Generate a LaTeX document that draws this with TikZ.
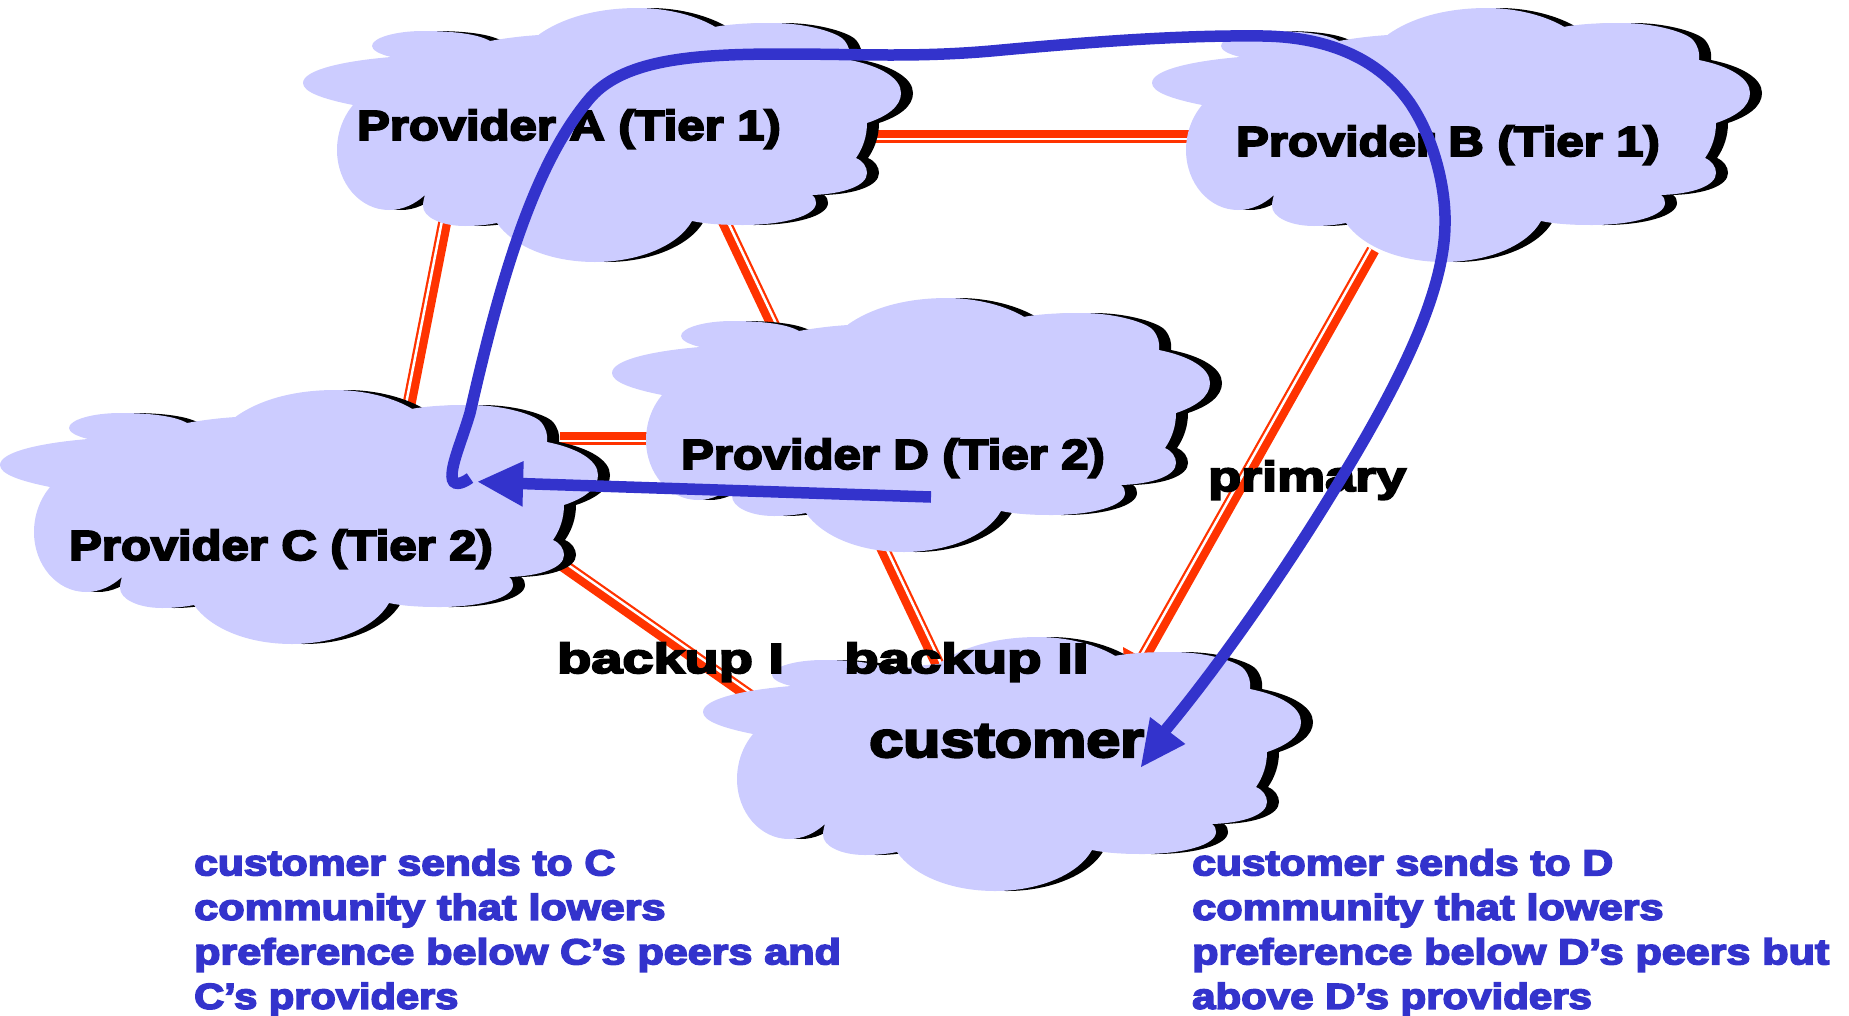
\documentclass[tikz,border=0pt]{standalone}
\usepackage{fontspec}
\usetikzlibrary{calc}
\newfontfamily\blk{Liberation Sans}[BoldFeatures={FakeBold=4.5,FakeStretch=1.1}]
\definecolor{cloudfill}{HTML}{CCCCFF}
\definecolor{linkred}{HTML}{FF3300}
\definecolor{flowblue}{HTML}{3333CC}
\tikzset{
  linkbase/.style={draw=linkred,line width=13pt},
  linkgap/.style={draw=white,line width=2.5pt},
  flow/.style={draw=flowblue,line width=11.5pt},
  flowhead/.style={fill=flowblue},
  label/.style={inner sep=0pt,anchor=base west,text=black,font=\blk\bfseries\fontsize{42}{42}\selectfont},
  biglabel/.style={label,font=\blk\bfseries\fontsize{50}{50}\selectfont},
  note/.style={inner sep=0pt,anchor=north west,align=left,text=flowblue,font=\blk\bfseries\fontsize{36}{44.5}\selectfont},
}
\newcommand\cloudoutline{(235.7,26.7) .. controls (262,8) and (298,0) .. (335,0) .. controls (365,0) and (395,8) .. (414,20) -- (406,20)
 .. controls (425,16) and (445,15) .. (469,15) .. controls (505,15) and (535,25) .. (541,32) .. controls (546,38) and (548,45) .. (547,52)
 .. controls (577,58) and (598,70) .. (598,85) .. controls (598,98) and (585,108) .. (564,115)
 .. controls (564,128) and (560,140) .. (553,150)
 .. controls (560,153) and (564,159) .. (564,165) .. controls (564,178) and (540,186) .. (509,187)
 .. controls (512,189) and (513,192) .. (513,195) .. controls (513,208) and (480,217) .. (440,217) .. controls (420,217) and (403,216) .. (389,213)
 .. controls (375,238) and (335,254) .. (292,254) .. controls (247,254) and (210,238) .. (194,215)
 .. controls (184,217) and (173,218) .. (162,218) .. controls (138,218) and (120,209) .. (120,198) .. controls (120,194) and (121,190) .. (122,187)
 .. controls (112,196) and (100,202) .. (86,202) .. controls (57,202) and (34,175) .. (34,142) .. controls (34,125) and (40,109) .. (50,97)
 .. controls (20,91) and (0,84) .. (0,75) .. controls (0,62) and (40,53) .. (88,49)
 .. controls (76,46) and (69,42) .. (69,38) .. controls (69,30) and (92,23) .. (120,23) .. controls (150,23) and (175,26) .. (187,33)
 .. controls (203,30) and (220,28) .. (236,27) -- cycle}
\newcommand\cloudat[2]{%
  \fill[black,shift={(#1+12,#2)}] \cloudoutline;
  \fill[cloudfill,shift={(#1,#2)}] \cloudoutline;}
\newcommand\linkline[3]{%
  \draw[linkbase] (#1) -- (#2);
  \draw[linkgap] ($(#1)!3pt!#3:(#2)$) -- ($(#2)!3pt!-#3:(#1)$);}
\begin{document}
\begin{tikzpicture}[x=1pt,y=-1pt]
\useasboundingbox (0,0) rectangle (1849,1015);
% link ends, inside the clouds
\coordinate (abA) at (860,136);   \coordinate (abB) at (1195,136);
\coordinate (acA) at (455,170);   \coordinate (acC) at (400,450);
\coordinate (adA) at (700,170);   \coordinate (adD) at (790,360);
\coordinate (cdC) at (560,438);   \coordinate (cdD) at (660,438);
\coordinate (ceC) at (540,549);   \coordinate (ceE) at (790,724);
\coordinate (deD) at (860,500);   \coordinate (deE) at (955,700);
\coordinate (beB) at (1373,250);  \coordinate (beE) at (1143,658);
\linkline{abA}{abB}{-90}
\linkline{acA}{acC}{-90}
\linkline{adA}{adD}{90}
\linkline{cdC}{cdD}{-90}
\linkline{ceC}{ceE}{90}
\linkline{deD}{deE}{90}
\linkline{beB}{beE}{-90}
\fill[linkred] (1123,647) -- (1163,669) -- (1126,688) -- cycle;
% clouds
\cloudat{303}{8}
\cloudat{1152}{8}
\cloudat{612}{298}
\cloudat{0}{390}
\cloudat{703}{637}
% labels
\node[label] (pa) at (357,140) {\scalebox{1.06}[1]{Provider A (Tier 1)}};
\node[label] (pb) at (1236,156) {\scalebox{1.06}[1]{Provider B (Tier 1)}};
\node[label] (pd) at (681,469) {\scalebox{1.06}[1]{Provider D (Tier 2)}};
\node[label] (pc) at (69,560) {\scalebox{1.06}[1]{Provider C (Tier 2)}};
\node[label] (prim) at (1208,491) {\scalebox{1.168}[1]{primary}};
\node[label] (bk1) at (557,673) {\scalebox{1.21}[1]{backup I}};
\node[label] (bk2) at (844,673) {\scalebox{1.22}[1]{backup II}};
\node[biglabel] (cust) at (869,757) {\scalebox{1.11}[1]{customer}};
\node[note] (n1) at (194,849) {\scalebox{1.075}[1]{customer sends to C}\\\scalebox{1.093}[1]{community that lowers}\\\scalebox{1.087}[1]{preference below C’s peers and}\\\scalebox{1.05}[1]{C’s providers}};
\node[note] (n2) at (1192,849) {\scalebox{1.075}[1]{customer sends to D}\\\scalebox{1.093}[1]{community that lowers}\\\scalebox{1.087}[1]{preference below D’s peers but}\\\scalebox{1.06}[1]{above D’s providers}};
% flows
\coordinate (f1s) at (470,478);
\coordinate (f1e) at (1163,733);
\draw[flow] (f1s) .. controls (462,484) and (452,487) .. (452,476)
  .. controls (452,462) and (462,440) .. (470,413)
  .. controls (498,290) and (532,165) .. (591,97)
  .. controls (626,58) and (700,54) .. (785,54)
  .. controls (860,54) and (920,58) .. (1002,50)
  .. controls (1090,42) and (1180,35) .. (1263,36)
  .. controls (1330,37) and (1380,60) .. (1410,103)
  .. controls (1435,140) and (1446,190) .. (1445,225)
  .. controls (1444,300) and (1390,400) .. (1328,500)
  .. controls (1285,570) and (1220,665) .. (f1e);
\coordinate (f2s) at (931,497);
\coordinate (f2e) at (520,483.5);
\draw[flow] (f2s) -- (f2e);
\fill[flowhead] (478,481.7) -- (523.7,461) -- (522.5,506.7) -- cycle;
\fill[flowhead] (1150,717) -- (1185.4,744) -- (1141,767) -- cycle;
\end{tikzpicture}
\end{document}
